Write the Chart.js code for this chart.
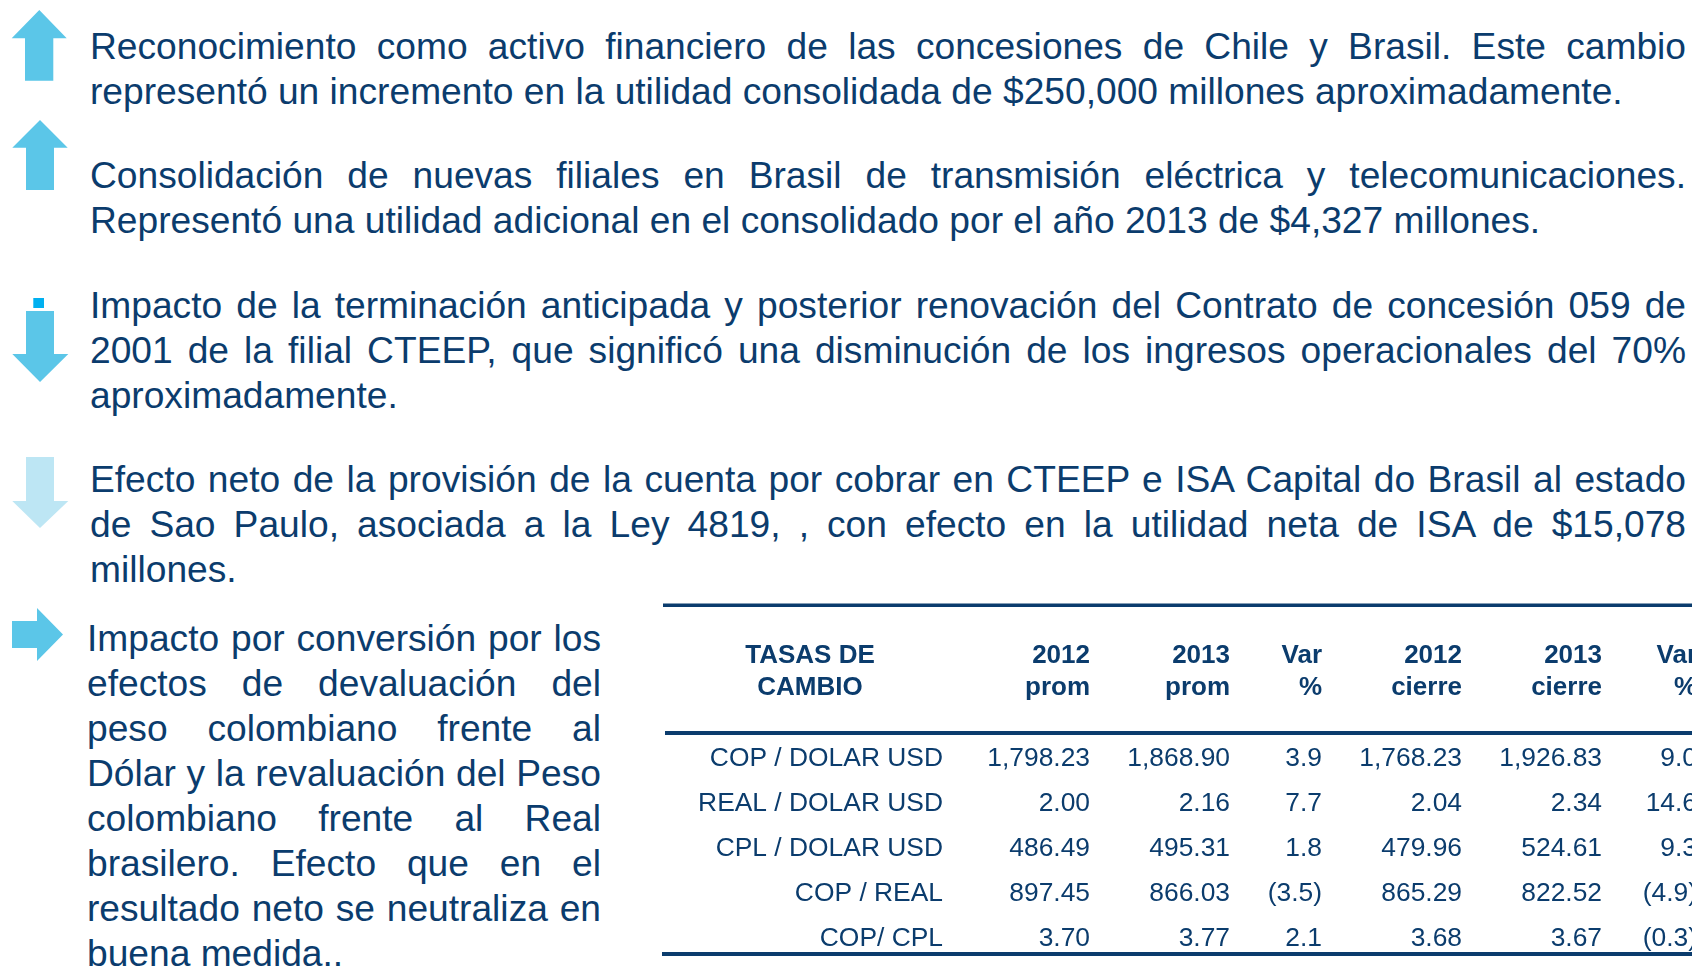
<!DOCTYPE html>
<html>
<head>
<meta charset="utf-8">
<script src="https://cdn.jsdelivr.net/npm/chart.js@4.4.0/dist/chart.umd.min.js"></script>
<style>
  html, body { margin:0; padding:0; background:#ffffff; width:1692px; height:966px; overflow:hidden; position:relative;
    font-family:"Liberation Sans", Arial, sans-serif; color:#0b3c6d; }
  .line { position:absolute; white-space:nowrap; text-align:justify; text-align-last:justify; }
  .line.last { text-align:left; text-align-last:left; }
  #arrows { position:absolute; left:0; top:0; }
  #tbl { position:absolute; left:600px; top:590px; width:1100px; height:376px; }
</style>
</head>
<body>
<svg id="arrows" width="100" height="700" xmlns="http://www.w3.org/2000/svg">
  <polygon fill="#5bc6e8" points="39.3,10 66.7,38.3 53.3,38.3 53.3,80.7 25,80.7 25,38.3 11.7,38.3"/>
  <polygon fill="#5bc6e8" points="40,120 67.7,147.7 54,147.7 54,190 26,190 26,147.7 12.3,147.7"/>
  <rect fill="#00b0f0" x="33.3" y="298" width="10.7" height="10"/>
  <polygon fill="#5bc6e8" points="26,311 54,311 54,354 68.3,354 40,382 12.3,354 26,354"/>
  <polygon fill="#bde6f4" points="26,457 54,457 54,501 68.3,501 40,528 12.3,501 26,501"/>
  <polygon fill="#5bc6e8" points="12,621 37,621 37,608 63,634.5 37,661 37,648 12,648"/>
</svg>
<div id="text"></div>
<div id="tbl"><canvas id="c" width="1100" height="376"></canvas></div>
<script>
// ---------- DATA ----------
const paragraph1 = [
  "Reconocimiento como activo financiero de las concesiones de Chile y Brasil. Este cambio",
  "representó un incremento en la utilidad consolidada de $250,000 millones aproximadamente."
];
const paragraph2 = [
  "Consolidación de nuevas filiales en Brasil de transmisión eléctrica y telecomunicaciones.",
  "Representó una utilidad adicional en el consolidado por el año 2013 de $4,327 millones."
];
const paragraph3 = [
  "Impacto de la terminación anticipada y posterior renovación del Contrato de concesión 059 de",
  "2001 de la filial CTEEP, que significó una disminución de los ingresos operacionales del 70%",
  "aproximadamente."
];
const paragraph4 = [
  "Efecto neto de la provisión de la cuenta por cobrar en CTEEP e ISA Capital do Brasil al estado",
  "de Sao Paulo, asociada a la Ley 4819, , con efecto en la utilidad neta de ISA de $15,078",
  "millones."
];
const paragraph5 = [
  "Impacto por conversión por los",
  "efectos de devaluación del",
  "peso colombiano frente al",
  "Dólar y la revaluación del Peso",
  "colombiano frente al Real",
  "brasilero. Efecto que en el",
  "resultado neto se neutraliza en",
  "buena medida.."
];

const tableTitle = ["TASAS DE", "CAMBIO"];
const columnHeaders = [["2012","prom"],["2013","prom"],["Var","%"],["2012","cierre"],["2013","cierre"],["Var","%"]];
const rowLabels = ["COP / DOLAR USD","REAL / DOLAR USD","CPL / DOLAR USD","COP / REAL","COP/ CPL"];
const prom2012   = [1798.23, 2.00, 486.49, 897.45, 3.70];
const prom2013   = [1868.90, 2.16, 495.31, 866.03, 3.77];
const varProm    = [3.9, 7.7, 1.8, -3.5, 2.1];
const cierre2012 = [1768.23, 2.04, 479.96, 865.29, 3.68];
const cierre2013 = [1926.83, 2.34, 524.61, 822.52, 3.67];
const varCierre  = [9.0, 14.6, 9.3, -4.9, -0.3];

// ---------- LAYOUT / STYLE ----------
const TEXT_COLOR = "#0b3c6d";
const LINE_STEP = 45;
const paraLayout = [
  { lines: paragraph1, left: 90, right: 1686, baseline: 59.5 },
  { lines: paragraph2, left: 90, right: 1686, baseline: 188.5 },
  { lines: paragraph3, left: 90, right: 1686, baseline: 318 },
  { lines: paragraph4, left: 90, right: 1686, baseline: 492 },
  { lines: paragraph5, left: 87, right: 601, baseline: 651 }
];

// fit body font size to the measured width of a reference line
const mctx = document.createElement("canvas").getContext("2d");
mctx.font = '100px "Liberation Sans"';
const refW = mctx.measureText(paragraph1[1]).width;
const FONT = 100 * 1533 / refW;
const ASC = 0.905, DESC = 0.212;
const baseOff = (LINE_STEP - (ASC + DESC) * FONT) / 2 + ASC * FONT;

const holder = document.getElementById("text");
paraLayout.forEach(p => {
  p.lines.forEach((t, i) => {
    const d = document.createElement("div");
    d.className = "line" + (i === p.lines.length - 1 ? " last" : "");
    d.textContent = t;
    d.style.left = p.left + "px";
    d.style.width = (p.right - p.left) + "px";
    d.style.fontSize = FONT + "px";
    d.style.lineHeight = LINE_STEP + "px";
    d.style.top = (p.baseline + i * LINE_STEP - baseOff) + "px";
    holder.appendChild(d);
  });
});

// ---------- TABLE via Chart.js ----------
const columns = [prom2012, prom2013, varProm, cierre2012, cierre2013, varCierre];
const isVar = [false, false, true, false, false, true];
const colRight = [490, 630, 722, 862, 1002, 1097]; // canvas px (linear x scale 0..1100)
const labelRight = 343, titleCenter = 210;

function fmt(v, pct) {
  const d = pct ? 1 : 2;
  const s = Math.abs(v).toLocaleString("en-US", { minimumFractionDigits: d, maximumFractionDigits: d });
  return v < 0 ? "(" + s + ")" : s;
}

const tablePlugin = {
  id: "tablePlugin",
  afterDraw(chart) {
    const ctx = chart.ctx;
    const xs = chart.scales.x, ys = chart.scales.y;
    ctx.save();
    ctx.fillStyle = TEXT_COLOR;
    // rules
    ctx.fillRect(63, 13.5, 1100, 3.5);
    ctx.fillRect(65, chart.chartArea.top - 3, 1100, 4);
    ctx.fillRect(62, 362, 1100, 4);
    // header
    ctx.font = 'bold 26px "Liberation Sans"';
    ctx.textBaseline = "alphabetic";
    ctx.textAlign = "center";
    ctx.fillText(tableTitle[0], xs.getPixelForValue(titleCenter), 73);
    ctx.fillText(tableTitle[1], xs.getPixelForValue(titleCenter), 105);
    ctx.textAlign = "right";
    columnHeaders.forEach((h, j) => {
      ctx.fillText(h[0], xs.getPixelForValue(colRight[j]), 73);
      ctx.fillText(h[1], xs.getPixelForValue(colRight[j]), 105);
    });
    // body
    ctx.font = '26.4px "Liberation Sans"';
    rowLabels.forEach((lab, i) => {
      const y = ys.getPixelForValue(i) + 9.5;
      ctx.fillText(lab, xs.getPixelForValue(labelRight), y);
      columns.forEach((col, j) => {
        ctx.fillText(fmt(col[i], isVar[j]), xs.getPixelForValue(colRight[j]), y);
      });
    });
    ctx.restore();
  }
};

new Chart(document.getElementById("c"), {
  type: "scatter",
  data: { datasets: [{ data: [], showLine: false }] },
  options: {
    responsive: false,
    animation: false,
    devicePixelRatio: 1,
    layout: { padding: { top: 144, bottom: 7, left: 0, right: 0 } },
    plugins: { legend: { display: false }, tooltip: { enabled: false } },
    scales: {
      x: { type: "linear", min: 0, max: 1100, display: false },
      y: { type: "category", labels: rowLabels, offset: true, display: false }
    }
  },
  plugins: [tablePlugin]
});
</script>
</body>
</html>
